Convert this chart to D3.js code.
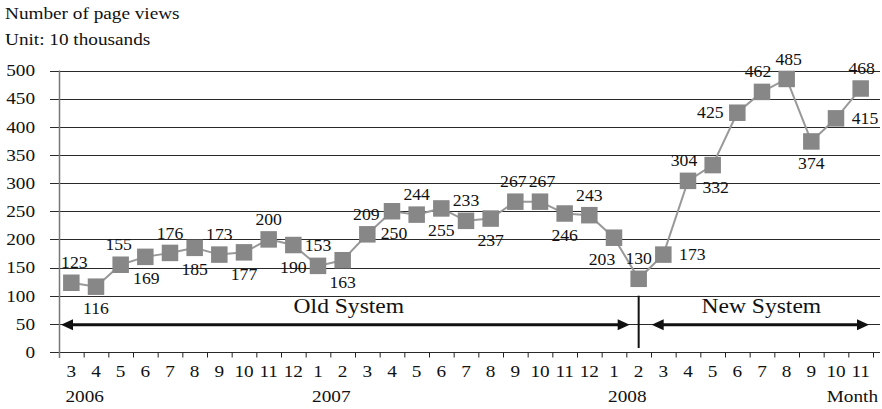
<!DOCTYPE html>
<html>
<head>
<meta charset="utf-8">
<script src="https://cdn.jsdelivr.net/npm/d3@7"></script>
<style>
  html, body { margin: 0; padding: 0; background: #fff; }
  svg { display: block; }
  text { font-family: "Liberation Serif", "Times New Roman", serif; fill: #111; }
</style>
</head>
<body>
<svg id="chart" width="882" height="409"></svg>
<script>
// Monthly page views, unit: 10 thousands
const years = ["2006", "2007", "2008"];
const months = [3, 4, 5, 6, 7, 8, 9, 10, 11, 12,
                1, 2, 3, 4, 5, 6, 7, 8, 9, 10, 11, 12,
                1, 2, 3, 4, 5, 6, 7, 8, 9, 10, 11];
const monthYear = [0, 0, 0, 0, 0, 0, 0, 0, 0, 0,
                   1, 1, 1, 1, 1, 1, 1, 1, 1, 1, 1, 1,
                   2, 2, 2, 2, 2, 2, 2, 2, 2, 2, 2];
const pageViews = [123, 116, 155, 169, 176, 185, 173, 177, 200, 190,
                   153, 163, 209, 250, 244, 255, 233, 237, 267, 267, 246, 243,
                   203, 130, 173, 304, 332, 425, 462, 485, 374, 415, 468];
// where each value label sits relative to its marker, plus a small sideways nudge
const labelSide = ["a", "b", "a", "b", "a", "b", "a", "b", "a", "b",
                   "a", "b", "a", "b", "a", "b", "a", "b", "a", "a", "b", "a",
                   "b", "a", "r", "a", "b", "l", "a", "a", "b", "r", "a"];
const labelNudge = [3, 0, -2, 1, 0, 0, 0, 0, 0, 0,
                    0, 0, -1, 2, 0, 0, 0, 0, -2, 2, 0, 0,
                    -12, 0, 0, -4, 3, 0, -4, 2, 0, 0, 1];
const yTicks = [0, 50, 100, 150, 200, 250, 300, 350, 400, 450, 500];
const switchIndex = 23;          // new system goes live in 2008-2
const phases = ["Old System", "New System"];

const svg = d3.select("#chart");
const FS = 17.5, SX = 1.1;       // serif text, slightly widened

function label(g, x, y, str, anchor, size, sx) {
  return g.append("text")
    .attr("transform", `translate(${x},${y}) scale(${sx || SX},1)`)
    .attr("text-anchor", anchor || "middle")
    .attr("font-size", size || FS)
    .text(str);
}

const left = 59, right = 873, gridRight = 880;
const idx = d3.range(pageViews.length);
const x = d3.scaleBand().domain(idx).range([left, right]).padding(0);
const xEdge = d3.scaleLinear().domain([0, pageViews.length]).range([left, right]);
const y = d3.scaleLinear().domain([0, 500]).range([352, 70.5]);
const cx = i => x(i) + x.bandwidth() / 2;

// titles
label(svg, 5, 19, "Number of page views", "start");
label(svg, 5, 45, "Unit: 10 thousands", "start");

// horizontal grid + y tick labels
const grid = svg.append("g");
grid.selectAll("line").data(yTicks).join("line")
  .attr("x1", 50).attr("x2", gridRight)
  .attr("y1", d => Math.round(y(d)) + 0.5).attr("y2", d => Math.round(y(d)) + 0.5)
  .attr("stroke", "#2a2a2a").attr("stroke-width", 1);
yTicks.forEach(t => label(svg, 35, y(t) + 5.8, String(t), "end"));

// y axis line
svg.append("line")
  .attr("x1", left + 0.5).attr("x2", left + 0.5)
  .attr("y1", y(500)).attr("y2", y(0) + 6)
  .attr("stroke", "#777").attr("stroke-width", 1.5);

// x axis tick marks at month boundaries
const xAxis = d3.axisBottom(xEdge)
  .tickValues(d3.range(1, pageViews.length + 1))
  .tickSize(5).tickFormat("");
const xg = svg.append("g").attr("transform", `translate(0,${Math.round(y(0)) + 0.5})`).call(xAxis);
xg.select(".domain").remove();
xg.selectAll(".tick line").attr("stroke", "#222");

// month labels
idx.forEach(i => label(svg, cx(i), 377, String(months[i])));
// year labels, under the boundary after the first month of each year
years.forEach((yr, k) => {
  const first = monthYear.indexOf(k);
  label(svg, xEdge(first + 1) + 1, 401.5, yr);
});
label(svg, 878, 401.5, "Month", "end");

// phase divider and arrows
const xs = cx(switchIndex);
svg.append("line")
  .attr("x1", xs).attr("x2", xs)
  .attr("y1", y(100)).attr("y2", y(0) - 4)
  .attr("stroke", "#111").attr("stroke-width", 2);

function doubleArrow(x1, x2, yy) {
  const g = svg.append("g");
  const L = 12, H = 5.5;
  g.append("line").attr("x1", x1 + L - 1).attr("x2", x2 - L + 1)
    .attr("y1", yy).attr("y2", yy).attr("stroke", "#111").attr("stroke-width", 3);
  g.append("path").attr("d", `M${x1},${yy} L${x1 + L},${yy - H} L${x1 + L},${yy + H} Z`).attr("fill", "#111");
  g.append("path").attr("d", `M${x2},${yy} L${x2 - L},${yy - H} L${x2 - L},${yy + H} Z`).attr("fill", "#111");
}
const ya = y(50) + 1;
const oldL = xEdge(0) + 2, oldR = xs - 9, newL = xs + 13, newR = xEdge(pageViews.length) - 4;
doubleArrow(oldL, oldR, ya);
doubleArrow(newL, newR, ya);
label(svg, (oldL + oldR) / 2 + 3.5, 313, phases[0], "middle", 22, 1.07);
label(svg, (newL + newR) / 2 + 1, 313, phases[1], "middle", 22, 1.07);

// series line
const line = d3.line().x((d, i) => cx(i)).y(d => y(d));
svg.append("path").datum(pageViews)
  .attr("d", line).attr("fill", "none")
  .attr("stroke", "#999").attr("stroke-width", 2);

// square markers
const S = 16.5;
svg.append("g").selectAll("rect").data(pageViews).join("rect")
  .attr("x", (d, i) => cx(i) - S / 2).attr("y", d => y(d) - S / 2)
  .attr("width", S).attr("height", S).attr("fill", "#878787");

// value labels
pageViews.forEach((v, i) => {
  let dx = labelNudge[i], dy = 0;
  const side = labelSide[i];
  if (side === "a") dy = -20;
  else if (side === "b") dy = 22;
  else if (side === "r") dx += 29;
  else if (side === "l") dx -= 27;
  label(svg, cx(i) + dx, y(v) + dy + 5.6, String(v), "middle", 17, 1.04);
});
</script>
</body>
</html>
